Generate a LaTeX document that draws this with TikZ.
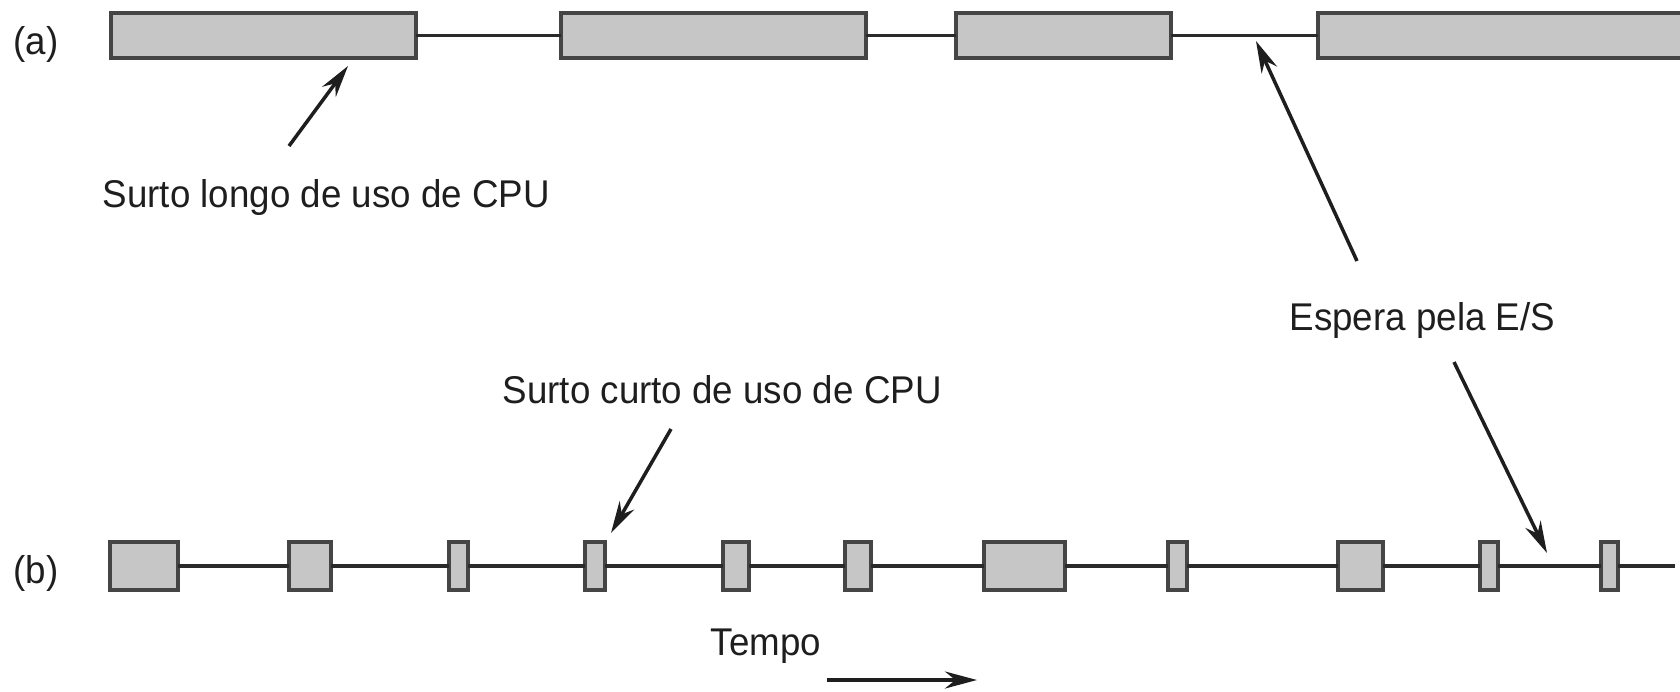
\documentclass[tikz,border=0pt]{standalone}
\usepackage{fontspec}
\setmainfont{Liberation Sans}[FakeStretch=0.95]
\usetikzlibrary{arrows.meta}

\definecolor{burstfill}{HTML}{C6C6C6}
\definecolor{burstline}{HTML}{454545}
\definecolor{waitline}{HTML}{2A2A2A}
\definecolor{inkgray}{HTML}{1E1E1E}

\tikzset{
    burst/.style={draw=burstline, fill=burstfill, line width=0.32mm, inner sep=0pt, outer sep=0pt, minimum height=4.5mm},
    wait/.style={draw=waitline, line width=0.35mm},
    txt/.style={anchor=base west, inner sep=0pt, text=inkgray, font=\fontsize{11}{13}\selectfont},
    pointer/.style={draw=inkgray, line width=0.35mm, -{Stealth[length=3.2mm,width=1.7mm]}}
}

\begin{document}
\begin{tikzpicture}[x=0.1mm, y=-0.1mm]
    \useasboundingbox (0,0) rectangle (1680,691);

    % (a) long bursts
    \foreach \l/\r [count=\i] in {111/416, 561/866, 956/1171, 1318/1720}
        \node[burst, minimum width={(\r-\l)*0.1mm}] (a\i) at ({(\l+\r)/2},35.5) {};
    \foreach \i/\j in {1/2, 2/3, 3/4}
        \draw[wait] (a\i.east) -- (a\j.west);
    \node[txt] (rowa) at (13,54) {(a)};

    % (b) short bursts
    \foreach \l/\r [count=\i] in {110/178, 289/331, 449/468, 585/605, 723/749, 845/871, 984/1065, 1168/1187, 1338/1383, 1480/1498, 1601/1618}
        \node[burst, minimum height=4.8mm, minimum width={(\r-\l)*0.1mm}] (b\i) at ({(\l+\r)/2},566) {};
    \foreach \i/\j in {1/2, 2/3, 3/4, 4/5, 5/6, 6/7, 7/8, 8/9, 9/10, 10/11}
        \draw[wait] (b\i.east) -- (b\j.west);
    \coordinate (bend) at (1675,566);
    \draw[wait] (b11.east) -- (bend);
    \node[txt] (rowb) at (13,583) {(b)};

    % labels
    \node[txt] (longtxt) at (102,207) {Surto longo de uso de CPU};
    \node[txt] (iotxt) at (1289,330) {Espera pela E/S};
    \node[txt] (shorttxt) at (502,403) {Surto curto de uso de CPU};
    \node[txt] (timetxt) at (710,655) {Tempo};

    % pointers
    \coordinate (longtail) at (289,146);
    \coordinate (longtip) at (348,66);
    \coordinate (iotailA) at (1357,261);
    \coordinate (iotipA) at (1256,41);
    \coordinate (iotailB) at (1454,362);
    \coordinate (iotipB) at (1547,553);
    \coordinate (shorttail) at (671,429);
    \coordinate (shorttip) at (611,533);
    \coordinate (timetail) at (827,680);
    \coordinate (timetip) at (977,680);
    \draw[pointer] (longtail) -- (longtip);
    \draw[pointer] (iotailA) -- (iotipA);
    \draw[pointer] (iotailB) -- (iotipB);
    \draw[pointer] (shorttail) -- (shorttip);
    \draw[pointer] (timetail) -- (timetip);
\end{tikzpicture}
\end{document}
